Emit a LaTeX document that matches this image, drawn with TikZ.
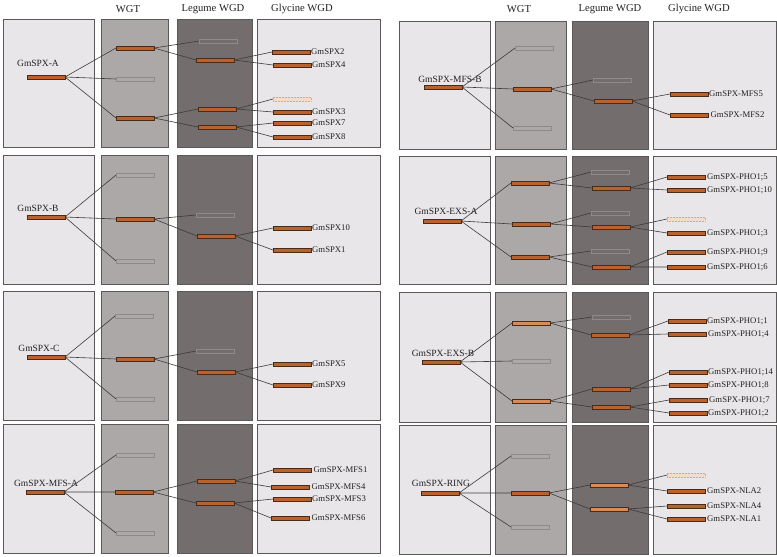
\documentclass[tikz,border=0pt]{standalone}
\usepackage{fontspec}
\setmainfont{Liberation Serif}
\definecolor{boxline}{HTML}{5A5858}
\definecolor{lightbox}{HTML}{E8E6E8}
\definecolor{wgtbox}{HTML}{ACA8A8}
\definecolor{legbox}{HTML}{736D6D}
\definecolor{barfill}{HTML}{B9622C}
\definecolor{barlight}{HTML}{D98A55}
\definecolor{barline}{HTML}{4A2A18}
\definecolor{emptyline}{HTML}{8E8A8A}
\definecolor{paleline}{HTML}{D8A888}
\definecolor{palefill}{HTML}{F4DCCB}
\definecolor{connc}{HTML}{3C3A3A}
\definecolor{txt}{HTML}{222222}
\tikzset{
  panel/.style={draw=boxline, line width=0.9pt},
  lbox/.style={panel, fill=lightbox},
  wbox/.style={panel, fill=wgtbox},
  gbox/.style={panel, fill=legbox},
  fb/.style={draw=barline, fill=barfill, line width=0.5pt, minimum width=38pt, minimum height=3.8pt, inner sep=0pt, outer sep=0pt, anchor=west},
  fl/.style={fb, fill=barlight},
  eb/.style={fb, draw=emptyline, fill=none, line width=0.7pt},
  pb/.style={fb, draw=paleline, fill=palefill, densely dotted, line width=0.7pt},
  conn/.style={draw=connc, line width=0.6pt},
  hdr/.style={font=\fontsize{10.6}{12}\selectfont, text=txt, inner sep=0pt},
  rlab/.style={font=\fontsize{9.5}{11}\selectfont, text=txt, inner sep=0pt},
  glab/.style={font=\fontsize{8.7}{10}\selectfont, text=txt, anchor=west, inner sep=1pt},
}
\begin{document}
\begin{tikzpicture}[x=1pt,y=-1pt]
\useasboundingbox (0,0) rectangle (777,557);
\fill[white] (0,0) rectangle (777,557);
% headers
\node[hdr] (h1) at (128,9) {WGT};
\node[hdr] (h2) at (213,9) {Legume WGD};
\node[hdr] (h3) at (302,9) {Glycine WGD};
\node[hdr] (h4) at (519,9) {WGT};
\node[hdr] (h5) at (610,9) {Legume WGD};
\node[hdr] (h6) at (699,9) {Glycine WGD};
% boxes left column
\foreach \ya/\yb in {19/147,155/284,291/420,424/553}{
  \draw[lbox] (3,\ya) rectangle (94,\yb);
  \draw[wbox] (101,\ya) rectangle (168,\yb);
  \draw[gbox] (177,\ya) rectangle (252,\yb);
  \draw[lbox] (257,\ya) rectangle (380,\yb);
}
% boxes right column
\foreach \ya/\yb in {21/149,156/284,292/422,425/554}{
  \draw[lbox] (399,\ya) rectangle (490,\yb);
  \draw[wbox] (495,\ya) rectangle (566,\yb);
  \draw[gbox] (572,\ya) rectangle (648,\yb);
  \draw[lbox] (653,\ya) rectangle (776,\yb);
}
% ---------- Panel GmSPX-A ----------
\node[fb] (aR) at (27,77) {};
\node[rlab] (aRl) at (38,63) {GmSPX-A};
\node[fb] (aW1) at (116,48) {};
\node[eb] (aW2) at (116,79) {};
\node[fb] (aW3) at (116,118) {};
\node[eb] (aL1) at (199,41) {};
\node[fb] (aL2) at (196,60) {};
\node[fb] (aL3) at (198,109) {};
\node[fb] (aL4) at (198,127) {};
\node[fb] (aG1) at (272,52) {};
\node[fb] (aG2) at (273,65) {};
\node[pb] (aG3) at (273,99) {};
\node[fb] (aG4) at (273,112) {};
\node[fb] (aG5) at (273,123) {};
\node[fb] (aG6) at (273,137) {};
\node[glab] (aT1) at (aG1.east) {GmSPX2};
\node[glab] (aT2) at (aG2.east) {GmSPX4};
\node[glab] (aT4) at (aG4.east) {GmSPX3};
\node[glab] (aT5) at (aG5.east) {GmSPX7};
\node[glab] (aT6) at (aG6.east) {GmSPX8};
\draw[conn] (aR.east) -- (aW1.west) (aR.east) -- (aW2.west) (aR.east) -- (aW3.west);
\draw[conn] (aW1.east) -- (aL1.west) (aW1.east) -- (aL2.west);
\draw[conn] (aW3.east) -- (aL3.west) (aW3.east) -- (aL4.west);
\draw[conn] (aL2.east) -- (aG1.west) (aL2.east) -- (aG2.west);
\draw[conn] (aL3.east) -- (aG3.west) (aL3.east) -- (aG4.west);
\draw[conn] (aL4.east) -- (aG5.west) (aL4.east) -- (aG6.west);
% ---------- Panel GmSPX-B ----------
\node[fb] (bR) at (27,217) {};
\node[rlab] (bRl) at (38,208) {GmSPX-B};
\node[eb] (bW1) at (116,175) {};
\node[fb] (bW2) at (116,219) {};
\node[eb] (bW3) at (116,261) {};
\node[eb] (bL1) at (196,215) {};
\node[fb] (bL2) at (197,236) {};
\node[fb] (bG1) at (273,228) {};
\node[fb] (bG2) at (273,250) {};
\node[glab] (bT1) at (bG1.east) {GmSPX10};
\node[glab] (bT2) at (bG2.east) {GmSPX1};
\draw[conn] (bR.east) -- (bW1.west) (bR.east) -- (bW2.west) (bR.east) -- (bW3.west);
\draw[conn] (bW2.east) -- (bL1.west) (bW2.east) -- (bL2.west);
\draw[conn] (bL2.east) -- (bG1.west) (bL2.east) -- (bG2.west);
% ---------- Panel GmSPX-C ----------
\node[fb] (cR) at (27,357) {};
\node[rlab] (cRl) at (39,348) {GmSPX-C};
\node[eb] (cW1) at (115,316) {};
\node[fb] (cW2) at (116,359) {};
\node[eb] (cW3) at (116,399) {};
\node[eb] (cL1) at (196,351) {};
\node[fb] (cL2) at (197,372) {};
\node[fb] (cG1) at (273,364) {};
\node[fb] (cG2) at (273,385) {};
\node[glab] (cT1) at (cG1.east) {GmSPX5};
\node[glab] (cT2) at (cG2.east) {GmSPX9};
\draw[conn] (cR.east) -- (cW1.west) (cR.east) -- (cW2.west) (cR.east) -- (cW3.west);
\draw[conn] (cW2.east) -- (cL1.west) (cW2.east) -- (cL2.west);
\draw[conn] (cL2.east) -- (cG1.west) (cL2.east) -- (cG2.west);
% ---------- Panel GmSPX-MFS-A ----------
\node[fb] (dR) at (26,492) {};
\node[rlab] (dRl) at (46,483) {GmSPX-MFS-A};
\node[eb] (dW1) at (116,455) {};
\node[fb] (dW2) at (115,492) {};
\node[eb] (dW3) at (116,533) {};
\node[fb] (dL1) at (197,481) {};
\node[fb] (dL2) at (196,503) {};
\node[fb] (dG1) at (273,470) {};
\node[fb] (dG2) at (271,487) {};
\node[fb] (dG3) at (273,499) {};
\node[fb] (dG4) at (271,518) {};
\node[glab,xshift=1.5pt] (dT1) at (dG1.east) {GmSPX-MFS1};
\node[glab,xshift=1.5pt] (dT2) at (dG2.east) {GmSPX-MFS4};
\node[glab] (dT3) at (dG3.east) {GmSPX-MFS3};
\node[glab,xshift=1.5pt] (dT4) at (dG4.east) {GmSPX-MFS6};
\draw[conn] (dR.east) -- (dW1.west) (dR.east) -- (dW2.west) (dR.east) -- (dW3.west);
\draw[conn] (dW2.east) -- (dL1.west) (dW2.east) -- (dL2.west);
\draw[conn] (dL1.east) -- (dG1.west) (dL1.east) -- (dG2.west);
\draw[conn] (dL2.east) -- (dG3.west) (dL2.east) -- (dG4.west);
% ---------- Panel GmSPX-MFS-B ----------
\node[fb] (eR) at (424,87) {};
\node[rlab] (eRl) at (450,79) {GmSPX-MFS-B};
\node[eb] (eW1) at (515,48) {};
\node[fb] (eW2) at (513,89) {};
\node[eb] (eW3) at (513,128) {};
\node[eb] (eL1) at (593,80) {};
\node[fb] (eL2) at (594,101) {};
\node[fb] (eG1) at (670,94) {};
\node[fb] (eG2) at (670,115) {};
\node[glab] (eT1) at (eG1.east) {GmSPX-MFS5};
\node[glab,xshift=1.5pt] (eT2) at (eG2.east) {GmSPX-MFS2};
\draw[conn] (eR.east) -- (eW1.west) (eR.east) -- (eW2.west) (eR.east) -- (eW3.west);
\draw[conn] (eW2.east) -- (eL1.west) (eW2.east) -- (eL2.west);
\draw[conn] (eL2.east) -- (eG1.west) (eL2.east) -- (eG2.west);
% ---------- Panel GmSPX-EXS-A ----------
\node[fb] (fR) at (423,221) {};
\node[rlab] (fRl) at (446,211) {GmSPX-EXS-A};
\node[fb] (fW1) at (511,183) {};
\node[fb] (fW2) at (512,224) {};
\node[fb] (fW3) at (511,257) {};
\node[eb] (fL1) at (591,172) {};
\node[fb] (fL2) at (592,188) {};
\node[eb] (fL3) at (591,213) {};
\node[fb] (fL4) at (592,227) {};
\node[eb] (fL5) at (591,251) {};
\node[fb] (fL6) at (592,267) {};
\node[fb] (fG1) at (667,177) {};
\node[fb] (fG2) at (667,190) {};
\node[pb] (fG3) at (667,219) {};
\node[fb] (fG4) at (667,233) {};
\node[fb] (fG5) at (667,252) {};
\node[fb] (fG6) at (667,267) {};
\node[glab,xshift=1pt] (fT1) at (fG1.east) {GmSPX-PHO1;5};
\node[glab,xshift=1pt] (fT2) at (fG2.east) {GmSPX-PHO1;10};
\node[glab,xshift=1pt] (fT4) at (fG4.east) {GmSPX-PHO1;3};
\node[glab,xshift=1pt] (fT5) at (fG5.east) {GmSPX-PHO1;9};
\node[glab,xshift=1pt] (fT6) at (fG6.east) {GmSPX-PHO1;6};
\draw[conn] (fR.east) -- (fW1.west) (fR.east) -- (fW2.west) (fR.east) -- (fW3.west);
\draw[conn] (fW1.east) -- (fL1.west) (fW1.east) -- (fL2.west);
\draw[conn] (fW2.east) -- (fL3.west) (fW2.east) -- (fL4.west);
\draw[conn] (fW3.east) -- (fL5.west) (fW3.east) -- (fL6.west);
\draw[conn] (fL2.east) -- (fG1.west) (fL2.east) -- (fG2.west);
\draw[conn] (fL4.east) -- (fG3.west) (fL4.east) -- (fG4.west);
\draw[conn] (fL6.east) -- (fG5.west) (fL6.east) -- (fG6.west);
% ---------- Panel GmSPX-EXS-B ----------
\node[fb] (hR) at (422,362) {};
\node[rlab] (hRl) at (443,353) {GmSPX-EXS-B};
\node[fl] (hW1) at (512,323) {};
\node[eb] (hW2) at (512,361) {};
\node[fl] (hW3) at (512,401) {};
\node[eb] (hL1) at (592,317) {};
\node[fb] (hL2) at (591,335) {};
\node[fb] (hL3) at (592,389) {};
\node[fb] (hL4) at (592,407) {};
\node[fb] (hG1) at (668,321) {};
\node[fb] (hG2) at (668,334) {};
\node[fb] (hG3) at (669,372) {};
\node[fb] (hG4) at (669,385) {};
\node[fb] (hG5) at (669,400) {};
\node[fb] (hG6) at (669,413) {};
\node[glab] (hT1) at (hG1.east) {GmSPX-PHO1;1};
\node[glab,xshift=1pt] (hT2) at (hG2.east) {GmSPX-PHO1;4};
\node[glab] (hT3) at (hG3.east) {GmSPX-PHO1;14};
\node[glab] (hT4) at (hG4.east) {GmSPX-PHO1;8};
\node[glab,xshift=1pt] (hT5) at (hG5.east) {GmSPX-PHO1;7};
\node[glab] (hT6) at (hG6.east) {GmSPX-PHO1;2};
\draw[conn] (hR.east) -- (hW1.west) (hR.east) -- (hW2.west) (hR.east) -- (hW3.west);
\draw[conn] (hW1.east) -- (hL1.west) (hW1.east) -- (hL2.west);
\draw[conn] (hW3.east) -- (hL3.west) (hW3.east) -- (hL4.west);
\draw[conn] (hL2.east) -- (hG1.west) (hL2.east) -- (hG2.west);
\draw[conn] (hL3.east) -- (hG3.west) (hL3.east) -- (hG4.west);
\draw[conn] (hL4.east) -- (hG5.west) (hL4.east) -- (hG6.west);
% ---------- Panel GmSPX-RING ----------
\node[fb] (rR) at (421,493) {};
\node[rlab] (rRl) at (441,483) {GmSPX-RING};
\node[eb] (rW1) at (511,456) {};
\node[fb] (rW2) at (511,493) {};
\node[eb] (rW3) at (511,527) {};
\node[fl] (rL1) at (590,485) {};
\node[fl] (rL2) at (590,509) {};
\node[pb] (rG1) at (667,475) {};
\node[fb] (rG2) at (667,491) {};
\node[fb] (rG3) at (667,506) {};
\node[fb] (rG4) at (667,519) {};
\node[glab,xshift=1pt] (rT2) at (rG2.east) {GmSPX-NLA2};
\node[glab,xshift=1pt] (rT3) at (rG3.east) {GmSPX-NLA4};
\node[glab,xshift=1pt] (rT4) at (rG4.east) {GmSPX-NLA1};
\draw[conn] (rR.east) -- (rW1.west) (rR.east) -- (rW2.west) (rR.east) -- (rW3.west);
\draw[conn] (rW2.east) -- (rL1.west) (rW2.east) -- (rL2.west);
\draw[conn] (rL1.east) -- (rG1.west) (rL1.east) -- (rG2.west);
\draw[conn] (rL2.east) -- (rG3.west) (rL2.east) -- (rG4.west);
\end{tikzpicture}
\end{document}
